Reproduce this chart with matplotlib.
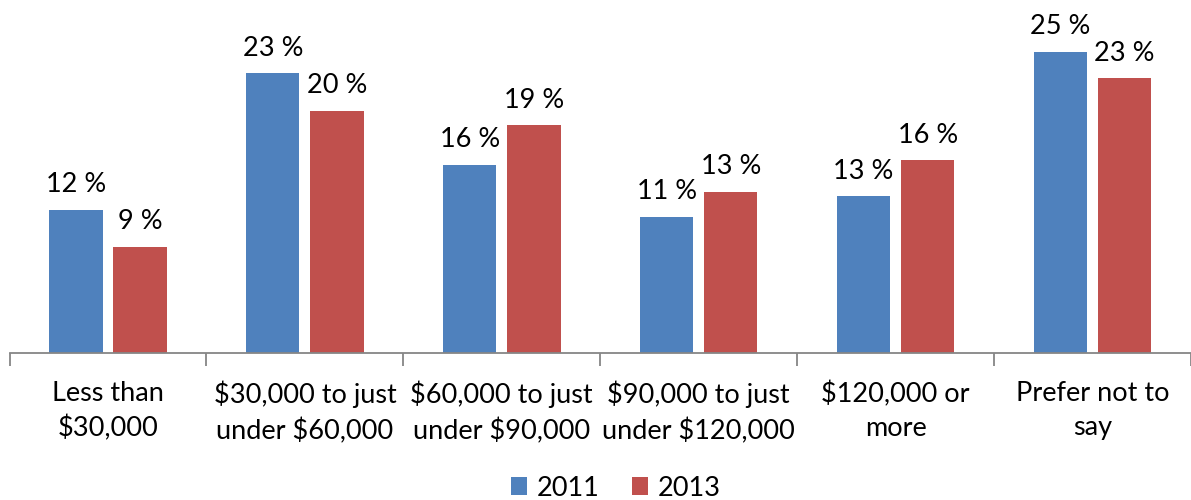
import matplotlib
matplotlib.use("Agg")
import matplotlib.pyplot as plt
import numpy as np

categories = ["Less than\n$30,000", "$30,000 to just\nunder $60,000", "$60,000 to just\nunder $90,000",
              "$90,000 to just\nunder $120,000", "$120,000 or\nmore", "Prefer not to\nsay"]
series_names = ["2011", "2013"]
values_2011 = [11.9, 23.2, 15.6, 11.3, 13.0, 25.0]
values_2013 = [8.8, 20.1, 18.9, 13.4, 16.0, 22.8]
colors = ["#4F81BD", "#C0504D"]

plt.rcParams['font.family'] = ['Lato', 'DejaVu Sans']
FS = 19.5

W, H = 1191, 500
fig = plt.figure(figsize=(W / 100, H / 100), dpi=100)
left_px, right_px, base_px, top_px = 9.5, 1191, 353, 27.6
ax = fig.add_axes([left_px / W, (H - base_px) / H, (right_px - left_px) / W, (base_px - top_px) / H])

n = len(categories)
x = np.arange(n)
bw = 0.271
off = 0.163
for vals, c, name, d in [(values_2011, colors[0], series_names[0], -off), (values_2013, colors[1], series_names[1], off)]:
    bars = ax.bar(x + d, vals, width=bw, color=c, label=name, linewidth=0)
    for b, v in zip(bars, vals):
        ax.annotate(f"{round(v):d} %", (b.get_x() + b.get_width() / 2, v), xytext=(0, 9),
                    textcoords="offset points", ha="center", va="bottom", fontsize=FS)

ax.set_xlim(-0.5, n - 0.5 + (1191 - 9.5 - 6 * 197.4) / 197.4)
ax.set_ylim(0, 27)
for s in ["top", "right", "left"]:
    ax.spines[s].set_visible(False)
ax.spines["bottom"].set_color("#868686")
ax.spines["bottom"].set_linewidth(1.3)
ax.set_yticks([])
ax.set_xticks(np.arange(-0.5, n, 1.0), minor=False)
ax.set_xticklabels([])
ax.tick_params(axis="x", which="major", length=9, width=1.3, color="#868686", direction="out")
ax.set_xticks(x, minor=True)
ax.set_xticklabels(categories, minor=True, fontsize=FS, linespacing=1.45)
ax.tick_params(axis="x", which="minor", length=0, pad=20)

leg = fig.legend(loc="lower center", bbox_to_anchor=(0.517, -0.05), ncol=2, frameon=False, fontsize=FS,
                 handlelength=0.6, handleheight=0.6, handletextpad=0.35, columnspacing=1.2)

fig.savefig("out.png", dpi=100)
